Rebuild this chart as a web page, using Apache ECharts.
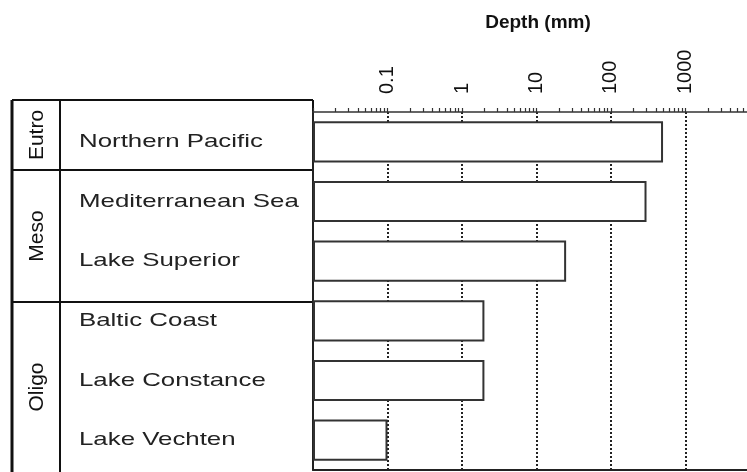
<!DOCTYPE html>
<html>
<head>
<meta charset="utf-8">
<script src="https://cdn.jsdelivr.net/npm/echarts@6/dist/echarts.min.js"></script>
<style>
  html, body { margin: 0; padding: 0; background: #fff; }
  #chart { width: 747px; height: 472px; }
</style>
</head>
<body>
<div id="chart"></div>
<script>
// data
const categories = ['Northern Pacific', 'Mediterranean Sea', 'Lake Superior', 'Baltic Coast', 'Lake Constance', 'Lake Vechten']
const depthValues = [500, 300, 25, 2, 2, 0.1]
const groupNames = ['Eutro', 'Meso', 'Oligo']
const tickValues = [0.1, 1, 10, 100, 1000]
const tickLabels = ['0.1', '1', '10', '100', '1000']
const decades = [0.01, 0.1, 1, 10, 100, 1000]
const minorSteps = [2, 3, 4, 5, 6, 7, 8, 9]

// visible part of the depth axis (it runs on past the right edge in the figure)
const xMin = 0.01
const xMax = 6700

// table at the left (layout only)
const tableLeft = 12
const tableTop = 100
const tableRight = 313
const groupColX = 60
const rowBreaks = [100, 170, 302, 490]

const ink = '#222'
// tick positions of the log axis: each decade plus 2..9 inside it
let axisTicks = []
decades.forEach(d => {
  axisTicks.push(d)
  minorSteps.forEach(s => axisTicks.push(d * s))
})
axisTicks = axisTicks.filter(v => v <= xMax)

let myChart = echarts.init(document.getElementById('chart'))

myChart.setOption({
  animation: false,
  title: {
    text: 'Depth (mm)',
    left: 533,
    top: 8,
    textAlign: 'center',
    textStyle: { fontFamily: 'Liberation Sans', fontSize: 19, fontWeight: 'bold', color: '#111' }
  },
  grid: {
    left: 313,
    right: 0,
    top: 112,
    bottom: 2
  },
  xAxis: [
    {
      type: 'log',
      position: 'top',
      min: xMin,
      max: xMax,
      startValue: xMin,
      axisLine: { show: true, lineStyle: { color: '#333', width: 1.5 } },
      axisTick: { show: true, length: 4, customValues: axisTicks, lineStyle: { color: '#333', width: 1.2 } },
      axisLabel: {
        rotate: -90,
        margin: 18,
        customValues: tickValues,
        fontFamily: 'Liberation Sans',
        fontSize: 20,
        color: '#111',
        formatter: function (v) {
          let i = tickValues.findIndex(t => Math.abs(Math.log10(t) - Math.log10(v)) < 1e-6)
          return i >= 0 ? tickLabels[i] : ''
        }
      },
      splitLine: { show: false }
    },
    {
      // bottom frame line, and the dotted decade lines
      type: 'log',
      position: 'bottom',
      min: xMin,
      max: xMax,
      axisLine: { show: true, lineStyle: { color: ink, width: 2 } },
      axisTick: { show: false },
      axisLabel: { show: false },
      splitLine: {
        show: true,
        showMinLine: false,
        showMaxLine: false,
        lineStyle: { color: '#222', width: 2, type: [2, 2] }
      }
    }
  ],
  yAxis: {
    type: 'category',
    inverse: true,
    data: categories,
    axisLine: { show: true, lineStyle: { color: ink, width: 2 } },
    axisTick: { show: false },
    axisLabel: { show: false }
  },
  series: [
    {
      type: 'bar',
      data: depthValues,
      barWidth: '69%',
      itemStyle: { color: '#fff', borderColor: '#333', borderWidth: 2 }
    }
  ]
})

// table drawn next to the plot, names lined up with the category axis
function buildTable () {
  let els = []
  let line = (x1, y1, x2, y2, w) => ({
    type: 'line',
    shape: { x1: x1, y1: y1, x2: x2, y2: y2 },
    style: { stroke: '#111', lineWidth: w }
  })
  els.push(line(tableLeft, tableTop, tableLeft, 480, 3))
  els.push(line(groupColX, tableTop, groupColX, 480, 2))
  els.push(line(tableLeft, tableTop, tableRight, tableTop, 2))
  els.push(line(tableRight, tableTop, tableRight, 113, 2))
  rowBreaks.slice(1, 3).forEach(y => els.push(line(tableLeft, y, tableRight, y, 2)))

  groupNames.forEach((g, i) => {
    let cy = (rowBreaks[i] + rowBreaks[i + 1]) / 2
    if (i === 2) cy -= 9
    els.push({
      type: 'text',
      x: 37,
      y: cy,
      rotation: Math.PI / 2,
      style: {
        text: g, fontFamily: 'Liberation Sans', fontSize: 21, fill: '#111',
        textAlign: 'center', textVerticalAlign: 'middle'
      }
    })
  })

  categories.forEach(c => {
    let y = myChart.convertToPixel({ yAxisIndex: 0 }, c)
    els.push({
      type: 'text',
      x: 79,
      y: y,
      scaleX: 1.36,
      style: {
        text: c, fontFamily: 'Liberation Sans', fontSize: 19, fill: ink,
        textAlign: 'left', textVerticalAlign: 'middle'
      }
    })
  })
  return els
}

myChart.setOption({ graphic: { elements: buildTable() } })
</script>
</body>
</html>
